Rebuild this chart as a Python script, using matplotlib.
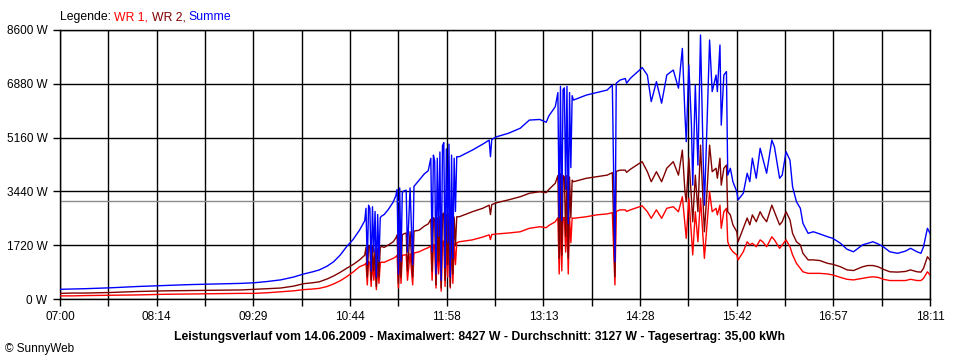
import numpy as np
import matplotlib
matplotlib.use("Agg")
import matplotlib.pyplot as plt

# Minuten nach 07:00 und Leistung in W
minuten = [0, 10, 20, 40, 60, 80, 100, 120, 140, 150, 160, 170, 180, 188, 195, 200,
           206, 211, 216, 221, 226, 231, 235,
           236, 237, 238, 239, 240, 241, 242, 243, 244, 245, 246, 247, 248,
           250, 253, 257,
           259, 260, 261, 262, 263, 264, 265, 267, 268, 270, 272, 273, 277, 281, 284,
           286, 287, 288, 289, 290, 291, 292, 293, 294, 295, 296, 297, 298, 299, 300,
           301, 302, 303, 304, 305, 306,
           308, 318, 326, 331, 332, 333, 337, 346, 355, 362, 370, 375, 377, 382,
           384, 385, 386, 387, 388, 389, 390, 391, 392, 393, 394, 395, 396,
           406, 414, 422, 426, 428, 429, 432, 436, 437, 440, 447,
           449, 453, 456, 460, 464, 468, 473, 477, 480, 482, 483, 485, 487, 488, 490,
           492, 494, 496, 497, 499, 501, 503, 506, 507, 509, 510, 512, 514, 515, 517,
           519, 522, 523, 527, 530, 532, 534, 537, 540, 542, 545, 549, 551, 555, 557,
           560, 563, 565, 568, 571, 573, 577, 581, 586, 592, 596, 602, 607, 612, 619,
           623, 627, 631, 635, 640, 646, 652, 656, 661, 664, 666, 669, 671]

summe = [310, 320, 330, 360, 400, 430, 460, 480, 500, 520, 560, 610, 700, 800, 870, 930,
         1050, 1190, 1400, 1670, 1900, 2200, 2500,
         2900, 1100, 3000, 2900, 900, 2950, 1500, 2800, 700, 2700, 1200, 2600, 2650,
         2700, 2850, 3100,
         3300, 3500, 800, 3550, 1200, 3400, 3450, 3480, 1500, 3550, 1100, 3600, 3800, 4000, 4100,
         4500, 1500, 4600, 4400, 800, 4500, 2000, 4700, 600, 4900, 5000, 1000, 4800, 1800, 4950,
         700, 4600, 1300, 4500, 2800, 4550,
         4550, 4760, 4950, 5080, 4550, 5100, 5190, 5300, 5460, 5720, 5740, 5650, 5850, 6150,
         6600, 2600, 6800, 2500, 6700, 6750, 3500, 6800, 2400, 6600, 4200, 6500, 6360,
         6520, 6600, 6680, 6840, 1190, 6900, 7000, 7050, 6900, 7060, 7320,
         7400, 7160, 6310, 6950, 6260, 7160, 7320, 6740, 8010, 5880, 5030, 7480, 5560, 3640, 6840,
         4280, 8440, 4600, 3000, 5560, 8280, 6630, 7160, 6630, 8120, 5560, 7160, 7270, 3960, 4180,
         3750, 3430, 3170, 3380, 4020, 3750, 4500, 3860, 4820, 4500, 4020, 5080, 4870, 3860, 3960,
         4710, 4440, 3590, 3110, 2900, 2420, 2100, 2150, 2080, 1990, 1940, 1780, 1590, 1510, 1730,
         1780, 1830, 1760, 1670, 1510, 1460, 1530, 1620, 1510, 1460, 1670, 2260, 2100]

wr2 = [180, 190, 190, 210, 240, 260, 270, 280, 290, 310, 330, 350, 410, 490, 520, 550,
       640, 735, 850, 980, 1100, 1250, 1400,
       1650, 700, 1700, 1650, 600, 1700, 900, 1600, 400, 1600, 700, 1650, 1680,
       1650, 1720, 1830,
       1950, 2050, 500, 2100, 700, 2050, 2080, 2110, 900, 2150, 700, 2170, 2200, 2330, 2400,
       2550, 900, 2600, 2550, 450, 2600, 1200, 2650, 350, 2700, 2750, 600, 2700, 1100, 2750,
       400, 2650, 800, 2620, 1700, 2630,
       2630, 2790, 2900, 3000, 2700, 3020, 3080, 3170, 3270, 3380, 3430, 3400, 3500, 3700,
       3950, 1300, 4000, 1400, 3950, 3900, 2000, 3950, 1300, 3900, 2600, 3800, 3750,
       3860, 3910, 3960, 4040, 710, 4080, 4120, 4120, 4050, 4150, 4340,
       4390, 4070, 3750, 4070, 3750, 4180, 4390, 3960, 4760, 3430, 3110, 4500, 3220, 2470, 3960,
       2790, 4920, 3110, 2150, 3430, 4920, 4070, 4180, 3860, 4500, 3640, 4180, 4280, 2790, 2690,
       2370, 2150, 1830, 2270, 2590, 2370, 2690, 2470, 2790, 2630, 2470, 3000, 2790, 2370, 2470,
       2790, 2530, 2100, 1830, 1730, 1460, 1250, 1250, 1230, 1140, 1110, 1030, 930, 910, 1030,
       1070, 1070, 1030, 950, 870, 860, 880, 930, 870, 860, 980, 1350, 1250]

wr1 = [100, 100, 110, 120, 130, 150, 160, 170, 180, 180, 200, 230, 260, 300, 320, 340,
       400, 480, 580, 710, 860, 1030, 1100,
       1150, 450, 1200, 1150, 400, 1200, 600, 1100, 300, 1100, 500, 1150, 1180,
       1170, 1230, 1300,
       1350, 1400, 350, 1400, 500, 1400, 1400, 1420, 600, 1450, 450, 1470, 1510, 1590, 1640,
       1700, 600, 1750, 1700, 350, 1750, 800, 1800, 250, 1850, 1850, 400, 1800, 700, 1850,
       350, 1800, 500, 1780, 1100, 1800,
       1830, 1890, 1980, 2050, 1900, 2060, 2080, 2110, 2150, 2260, 2310, 2280, 2350, 2470,
       2600, 800, 2620, 900, 2600, 2600, 1500, 2620, 800, 2600, 1800, 2590, 2580,
       2630, 2690, 2720, 2760, 450, 2800, 2850, 2850, 2800, 2850, 2950,
       2980, 2790, 2580, 2850, 2580, 2900, 2950, 2790, 3270, 2370, 1940, 3220, 2050, 1410, 2790,
       1830, 3220, 1940, 1300, 2370, 3430, 2790, 2900, 2690, 3000, 2260, 2790, 2900, 1830, 1620,
       1510, 1410, 1250, 1510, 1830, 1730, 1780, 1670, 1890, 1830, 1670, 1990, 1890, 1620, 1730,
       1890, 1670, 1410, 1140, 980, 870, 820, 820, 820, 800, 770, 690, 630, 610, 660,
       690, 710, 690, 630, 590, 590, 590, 630, 590, 590, 660, 870, 770]

zeit_labels = ["07:00", "08:14", "09:29", "10:44", "11:58", "13:13", "14:28", "15:42", "16:57", "18:11"]
y_werte = [0, 1720, 3440, 5160, 6880, 8600]
durchschnitt = 3127

plt.rcParams["font.family"] = ["Liberation Sans", "DejaVu Sans"]

fig = plt.figure(figsize=(9.6, 3.6), dpi=100)
ax = fig.add_axes([60 / 960, 1 - 299 / 360, 870 / 960, 269 / 360])

# Gitter
n_int = 18
x_ticks = np.arange(n_int + 1) * 671 / n_int
for xt in x_ticks:
    ax.axvline(xt, color="black", lw=1.0, zorder=1)
for yt in y_werte:
    ax.axhline(yt, color="black", lw=1.0, zorder=1)
ax.axhline(durchschnitt, color="#8c8c8c", lw=1.0, zorder=1)

ax.plot(minuten, wr1, color="#ff0000", lw=1.0, zorder=3)
ax.plot(minuten, wr2, color="#800000", lw=1.0, zorder=4)
ax.plot(minuten, summe, color="#0000ff", lw=1.0, zorder=5)

ax.set_xlim(0, 671)
ax.set_ylim(0, 8600)
ax.set_xticks(x_ticks)
ax.set_xticklabels([zeit_labels[i // 2] if i % 2 == 0 else "" for i in range(n_int + 1)])
ax.set_yticks(y_werte)
ax.set_yticklabels([f"{v} W" for v in y_werte])
ax.tick_params(length=5, width=1.0, color="black", labelsize=8.5, pad=4)
for sp in ax.spines.values():
    sp.set_linewidth(1.0)

# Legende oben
teile = [("Legende: ", "black"), ("WR 1, ", "#ff0000"), ("WR 2, ", "#800000"), ("Summe", "#0000ff")]
fig.canvas.draw()
rend = fig.canvas.get_renderer()
x_px = 60
for txt, farbe in teile:
    t = fig.text(x_px / 960, 1 - 17 / 360, txt, color=farbe, fontsize=8.8, va="center", ha="left")
    bb = t.get_window_extent(renderer=rend)
    x_px = bb.x1

fig.text(480 / 960, 1 - 337 / 360,
         "Leistungsverlauf vom 14.06.2009 - Maximalwert: 8427 W - Durchschnitt: 3127 W - Tagesertrag: 35,00 kWh",
         ha="center", va="center", fontsize=8.8, fontweight="bold")
fig.text(5 / 960, 1 - 349 / 360, "© SunnyWeb", ha="left", va="center", fontsize=8.5)

fig.savefig("out.png", dpi=100)
